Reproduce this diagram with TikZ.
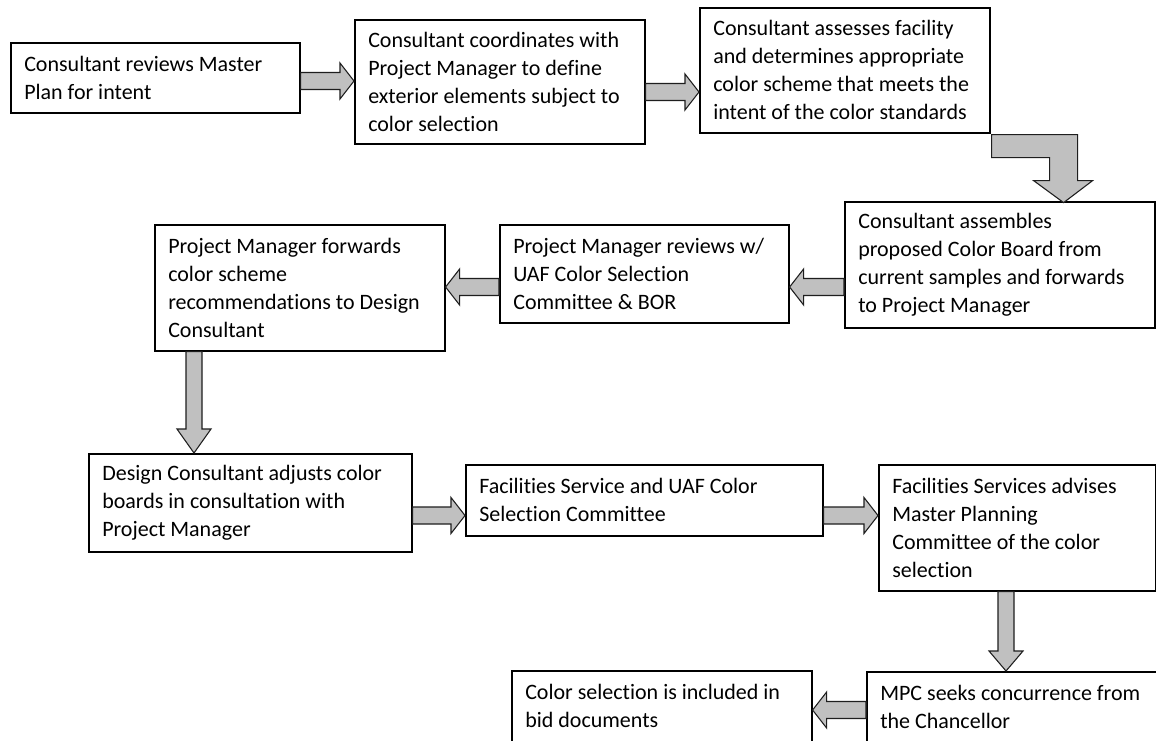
\documentclass[tikz,border=0pt]{standalone}
\usepackage{fontspec}
\setmainfont{Carlito}[Ligatures={NoCommon,NoContextual}]
\usetikzlibrary{calc}
\definecolor{arrfill}{RGB}{192,192,192}
\definecolor{arrline}{RGB}{30,30,30}
\tikzset{
  box/.style={draw=black, line width=1.2pt, fill=white, anchor=north west, inner sep=0pt},
  txt/.style={anchor=west, inner sep=0pt, align=left, font=\fontsize{16.5pt}{21pt}\selectfont},
  blk/.style={draw=arrline, fill=arrfill, line width=0.8pt, line join=miter},
}
\newcommand\bx[6]{%
  \pgfmathsetmacro\bxw{(#4-#2)*0.75}%
  \pgfmathsetmacro\bxh{(#5-#3)*0.75}%
  \node[box, minimum width=\bxw pt, minimum height=\bxh pt] (#1) at (#2,#3) {};
  \node[txt] (#1t) at ($(#1.west)+(14,0)$) {#6};}
\newcommand\arR[3]{%
  \path (#1.east |- 0,#3) coordinate (as) (#2.west |- 0,#3) coordinate (at);
  \draw[blk] ($(as)+(0,-8.5)$) -- ($(at)+(-14,-8.5)$) -- ($(at)+(-14,-18)$) -- (at)
    -- ($(at)+(-14,18)$) -- ($(at)+(-14,8.5)$) -- ($(as)+(0,8.5)$) -- cycle;}
\newcommand\arL[3]{%
  \path (#1.west |- 0,#3) coordinate (as) (#2.east |- 0,#3) coordinate (at);
  \draw[blk] ($(as)+(0,-8.5)$) -- ($(at)+(14,-8.5)$) -- ($(at)+(14,-18)$) -- (at)
    -- ($(at)+(14,18)$) -- ($(at)+(14,8.5)$) -- ($(as)+(0,8.5)$) -- cycle;}
\newcommand\arD[4]{%
  \path (#1.south -| #3,0) coordinate (as) (#2.north -| #3,0) coordinate (at);
  \draw[blk] ($(as)+(-8,0)$) -- ($(at)+(-8,-#4)$) -- ($(at)+(-17,-#4)$) -- (at)
    -- ($(at)+(17,-#4)$) -- ($(at)+(8,-#4)$) -- ($(as)+(8,0)$) -- cycle;}
\begin{document}
\begin{tikzpicture}[x=0.75pt, y=-0.75pt]
\useasboundingbox (0,0) rectangle (1156,740);
\clip (0,0) rectangle (1156,740);
\fill[white] (0,0) rectangle (1156,740);

\bx{b1}{10}{42}{299}{112}{Consultant reviews Master\\Plan for intent}
\bx{b2}{354}{19}{644}{143}{Consultant coordinates with\\Project Manager to define\\exterior elements subject to\\color selection}
\bx{b3}{699}{7}{989}{132}{Consultant assesses facility\\and determines appropriate\\color scheme that meets the\\intent of the color standards}
\bx{b4}{844}{201}{1154}{327}{Consultant assembles\\proposed Color Board from\\current samples and forwards\\to Project Manager}
\bx{b5}{499}{224}{788}{322}{Project Manager reviews w/\\UAF Color Selection\\Committee \& BOR}
\bx{b6}{154}{224}{444}{350}{Project Manager forwards\\color scheme\\recommendations to Design\\Consultant}
\bx{b7}{88}{453}{411}{551}{Design Consultant adjusts color\\boards in consultation with\\Project Manager}
\bx{b8}{465}{464}{822}{535}{Facilities Service and UAF Color\\Selection Committee}
\bx{b9}{878}{464}{1155}{590}{Facilities Services advises\\Master Planning\\Committee of the color\\selection}
\bx{b10}{866}{671}{1175}{742}{MPC seeks concurrence from\\the Chancellor}
\bx{b11}{511}{670}{811}{741}{Color selection is included in\\bid documents}

\arR{b1}{b2}{81}
\arR{b2}{b3}{92}
\draw[blk, shift={(b3.south east)}] (1,1) -- (87,1) -- (87,47) -- (102,47) -- (73,69)
  -- (43,47) -- (59,47) -- (59,24) -- (1,24) -- cycle;
\arL{b4}{b5}{287}
\arL{b5}{b6}{287}
\arD{b6}{b7}{194}{24}
\arR{b7}{b8}{515.5}
\arR{b8}{b9}{515.5}
\arD{b9}{b10}{1006}{20}
\arL{b10}{b11}{710}
\end{tikzpicture}
\end{document}
